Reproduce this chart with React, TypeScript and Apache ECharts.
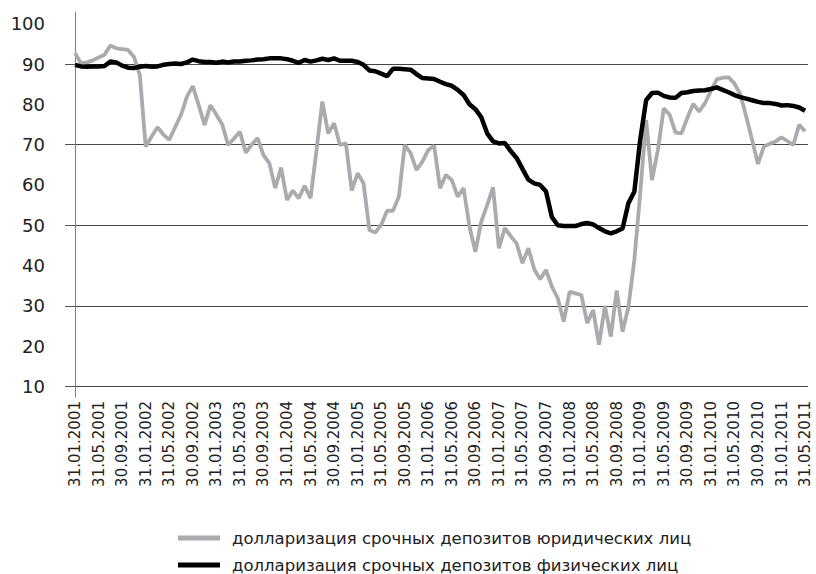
import React, { useEffect, useRef } from 'react';
import * as echarts from 'echarts';

// X-axis tick labels (every 4th month, 31.01.2001 … 31.05.2011)
const tickLabels = [
  '31.01.2001', '31.05.2001', '30.09.2001',
  '31.01.2002', '31.05.2002', '30.09.2002',
  '31.01.2003', '31.05.2003', '30.09.2003',
  '31.01.2004', '31.05.2004', '30.09.2004',
  '31.01.2005', '31.05.2005', '30.09.2005',
  '31.01.2006', '31.05.2006', '30.09.2006',
  '31.01.2007', '31.05.2007', '30.09.2007',
  '31.01.2008', '31.05.2008', '30.09.2008',
  '31.01.2009', '31.05.2009', '30.09.2009',
  '31.01.2010', '31.05.2010', '30.09.2010',
  '31.01.2011', '31.05.2011',
];

const seriesNames = [
  'долларизация срочных депозитов юридических лиц',
  'долларизация срочных депозитов физических лиц',
];

// Monthly values, Jan 2001 … May 2011 (125 months)
const legalEntities = [
  92.7, 90.2, 90.4, 90.9, 91.6, 92.3, 94.6, 93.9, 93.7, 93.5,
  91.8, 87.3, 69.5, 72.0, 74.3, 72.5, 71.2, 74.3, 77.4, 81.9,
  84.5, 79.8, 74.9, 79.8, 77.4, 75.0, 69.9, 71.5, 73.2, 68.0,
  70.0, 71.6, 67.4, 65.4, 59.2, 64.3, 56.3, 58.6, 56.7, 59.8,
  56.7, 68.5, 80.7, 72.8, 75.3, 69.9, 70.3, 58.6, 62.9, 60.4,
  48.8, 48.2, 50.1, 53.6, 53.6, 57.1, 69.9, 67.9, 63.7, 65.8,
  68.7, 69.7, 59.2, 62.5, 61.2, 57.1, 59.2, 49.7, 43.4, 50.9,
  55.0, 59.4, 44.3, 49.3, 47.3, 45.5, 40.6, 44.3, 39.1, 36.6,
  38.9, 34.8, 31.9, 26.1, 33.5, 33.1, 32.7, 25.7, 29.0, 20.4,
  30.0, 22.4, 33.8, 23.6, 29.8, 41.4, 57.9, 76.1, 61.2, 68.7,
  79.0, 77.4, 73.0, 72.8, 76.6, 80.1, 78.2, 80.3, 83.3, 86.2,
  86.6, 86.7, 85.2, 82.5, 77.0, 71.2, 65.2, 69.5, 70.2, 70.8,
  71.8, 70.9, 69.9, 74.9, 73.3,
];

const individuals = [
  89.8, 89.4, 89.3, 89.4, 89.4, 89.5, 90.6, 90.4, 89.6, 89.1,
  89.0, 89.3, 89.5, 89.3, 89.4, 89.8, 90.0, 90.1, 90.0, 90.4,
  91.1, 90.7, 90.5, 90.5, 90.3, 90.6, 90.4, 90.6, 90.6, 90.8,
  90.9, 91.1, 91.2, 91.4, 91.4, 91.4, 91.2, 90.8, 90.3, 91.0,
  90.6, 90.9, 91.3, 91.0, 91.4, 90.8, 90.8, 90.8, 90.5, 89.8,
  88.4, 88.2, 87.6, 87.0, 88.8, 88.8, 88.7, 88.6, 87.5, 86.5,
  86.4, 86.3, 85.6, 85.0, 84.6, 83.6, 82.3, 80.0, 78.8, 76.8,
  72.8, 70.8, 70.3, 70.4, 68.4, 66.7, 64.0, 61.3, 60.4, 60.0,
  58.4, 52.0, 50.0, 49.8, 49.8, 49.8, 50.3, 50.6, 50.2, 49.3,
  48.5, 48.0, 48.5, 49.2, 55.5, 58.3, 71.2, 81.0, 82.8, 82.9,
  82.1, 81.7, 81.6, 82.8, 83.0, 83.3, 83.4, 83.5, 83.8, 84.2,
  83.6, 83.0, 82.3, 81.8, 81.4, 81.0, 80.6, 80.3, 80.3, 80.1,
  79.7, 79.8, 79.6, 79.2, 78.4,
];

const yLabelValues = [10, 20, 30, 40, 50, 60, 70, 80, 90, 100];
const yGridValues = [10, 30, 50, 70, 90];

export default function App() {
  const ref = useRef<HTMLDivElement>(null);

  useEffect(() => {
    if (!ref.current) return;
    const chart = echarts.init(ref.current, null, { renderer: 'svg' });
    const toPairs = (arr: number[]) => arr.map((v, i) => [i, v]);
    const legendBase = {
      orient: 'vertical',
      left: 178,
      padding: 0,
      icon: 'rect',
      itemWidth: 42,
      itemHeight: 5,
      textStyle: {
        fontFamily: 'DejaVu Sans',
        fontSize: 16.5,
        lineHeight: 20,
        color: '#222',
        padding: [0, 0, 0, 7],
      },
    };
    chart.setOption({
      animation: false,
      backgroundColor: '#ffffff',
      grid: { left: 68, top: 12, width: 740, height: 385 },
      xAxis: {
        type: 'value',
        min: -1.2,
        max: 124.5,
        axisLine: { show: false },
        axisTick: { show: false },
        splitLine: { show: false },
        axisLabel: {
          customValues: tickLabels.map((_, i) => i * 4),
          formatter: (v: number) => tickLabels[Math.round(v / 4)] ?? '',
          rotate: 90,
          margin: 4,
          fontFamily: 'DejaVu Sans',
          fontSize: 15,
          color: '#222',
        },
      },
      yAxis: {
        type: 'value',
        min: 7.4,
        max: 102.9,
        axisLine: { show: true, lineStyle: { color: '#808080', width: 1 } },
        axisTick: {
          show: true,
          customValues: yGridValues,
          length: 10,
          lineStyle: { color: '#555', width: 1 },
        },
        splitLine: { show: true, lineStyle: { color: '#444', width: 1 } },
        axisLabel: {
          customValues: yLabelValues,
          margin: 23,
          fontFamily: 'DejaVu Sans',
          fontSize: 18,
          color: '#222',
        },
      },
      legend: [
        { ...legendBase, top: 528, data: [seriesNames[0]] },
        { ...legendBase, top: 555, data: [seriesNames[1]] },
      ],
      series: [
        {
          name: seriesNames[0],
          type: 'line',
          data: toPairs(legalEntities),
          symbol: 'none',
          color: '#a9abae',
          itemStyle: { color: '#a9abae' },
          lineStyle: { color: '#a9abae', width: 3.8 },
        },
        {
          name: seriesNames[1],
          type: 'line',
          data: toPairs(individuals),
          symbol: 'none',
          color: '#000000',
          itemStyle: { color: '#000000' },
          lineStyle: { color: '#000000', width: 4.5 },
        },
      ],
    });
    return () => chart.dispose();
  }, []);

  return (
    <div
      ref={ref}
      style={{ position: 'fixed', left: 0, top: 0, width: 816, height: 574, background: '#fff' }}
    />
  );
}
